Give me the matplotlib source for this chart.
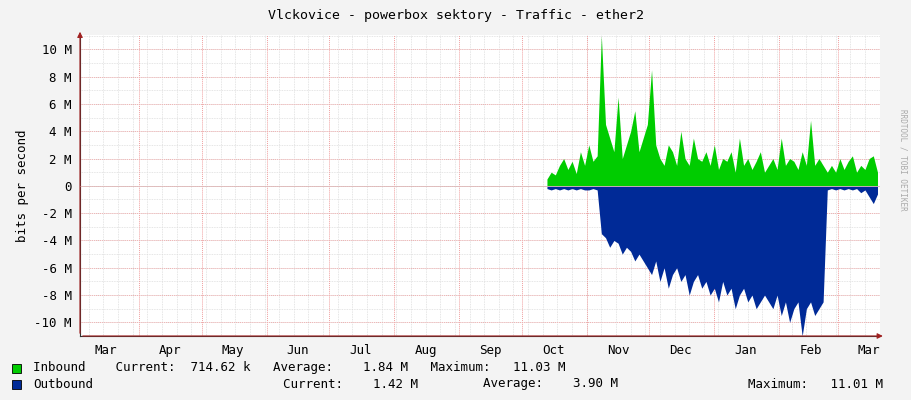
import matplotlib
matplotlib.use("Agg")
import matplotlib.pyplot as plt
import numpy as np

days = list(range(226, 386, 2))
inbound = [0.5,1.0,0.8,1.5,2.0,1.2,1.8,0.9,2.5,1.5,3.0,1.8,2.2,
           11.0,4.5,3.5,2.5,6.5,2.0,3.0,4.0,5.5,2.5,
           3.5,4.5,8.5,3.0,2.0,1.5,3.0,2.5,1.5,4.0,2.0,1.5,3.5,2.0,1.8,
           2.5,1.5,3.0,1.2,2.0,1.8,2.5,1.0,3.5,1.5,2.0,1.2,1.8,2.5,1.0,
           1.5,2.0,1.2,3.5,1.5,2.0,1.8,1.2,2.5,1.5,4.8,1.5,2.0,1.5,1.0,
           1.5,1.0,2.0,1.2,1.8,2.2,1.0,1.5,1.2,2.0,2.2,1.0]
outbound = [0.2,0.3,0.2,0.3,0.2,0.3,0.2,0.3,0.2,0.3,0.3,0.2,0.3,
            3.5,3.8,4.5,4.0,4.2,5.0,4.5,4.8,5.5,5.0,
            5.5,6.0,6.5,5.5,7.0,6.0,7.5,6.5,6.0,7.0,6.5,8.0,7.0,6.5,7.5,
            7.0,8.0,7.5,8.5,7.0,8.0,7.5,9.0,8.0,7.5,8.5,8.0,9.0,8.5,8.0,
            8.5,9.0,8.0,9.5,8.5,10.0,9.0,8.5,11.0,9.0,8.5,9.5,9.0,8.5,0.3,
            0.2,0.3,0.2,0.3,0.2,0.3,0.2,0.5,0.3,0.8,1.3,0.6]
months = ["Mar","Apr","May","Jun","Jul","Aug","Sep","Oct","Nov","Dec","Jan","Feb","Mar"]
month_starts = [0,31,61,92,122,153,184,214,245,275,306,337,365]
yticks = [-10,-8,-6,-4,-2,0,2,4,6,8,10]
ylabels = ["-10 M","-8 M","-6 M","-4 M","-2 M","0","2 M","4 M","6 M","8 M","10 M"]

mono = "DejaVu Sans Mono"
fig = plt.figure(figsize=(9.11,4.0), dpi=100, facecolor="#F3F3F3")
ax = fig.add_axes([80/911, 64/400, 800/911, 301/400])
ax.set_facecolor("white")
x0, x1 = 2.8, 385.2
ax.set_xlim(x0, x1); ax.set_ylim(-11, 11.05)

d = np.array(days); ii = np.array(inbound); oo = -np.array(outbound)
ax.fill_between(d, 0, ii, color="#00CC00", lw=0)
ax.fill_between(d, 0, oo, color="#002A97", lw=0)

for w in np.arange(7, 386, 7):
    ax.axvline(w, color="#DDDDDD", lw=0.6, ls=(0,(1,1)), zorder=0)
for y in np.arange(-11, 11.1, 1):
    ax.axhline(y, color="#DDDDDD", lw=0.6, ls=(0,(1,1)), zorder=0)
for m in month_starts[1:]:
    ax.axvline(m, color="#F0A0A0", lw=0.7, ls=(0,(1,1)), zorder=0.5)
for y in yticks:
    ax.axhline(y, color="#F0B0B0", lw=0.7, ls=(0,(1,1)), zorder=0.5)
ax.axhline(0, color="#DDBBBB", lw=0.6, zorder=3)

mids = [m+15 for m in month_starts]
ax.set_xticks(mids); ax.set_xticklabels(months, fontfamily=mono, fontsize=9)
ax.set_yticks(yticks); ax.set_yticklabels(ylabels, fontfamily=mono, fontsize=9)
ax.tick_params(length=0, pad=6)
for s in ["top","right"]:
    ax.spines[s].set_visible(False)
for s in ["left","bottom"]:
    ax.spines[s].set_color("#333333"); ax.spines[s].set_linewidth(0.8)
ax.annotate("", xy=(1.007,0), xycoords="axes fraction", xytext=(0,0),
            arrowprops=dict(arrowstyle="-|>", color="#A02020", lw=0.8, mutation_scale=8))
ax.annotate("", xy=(0,1.02), xycoords="axes fraction", xytext=(0,0),
            arrowprops=dict(arrowstyle="-|>", color="#A02020", lw=0.8, mutation_scale=8))
ax.set_ylabel("bits per second", fontfamily=mono, fontsize=9)

fig.text(0.5, 1-16/400, "Vlckovice - powerbox sektory - Traffic - ether2", ha="center", va="center",
         fontfamily=mono, fontsize=9.5)
fig.text(903/911, 0.5+40/400, "RRDTOOL / TOBI OETIKER", rotation=270, ha="center", va="center",
         fontfamily=mono, fontsize=5.5, color="#AAAAAA")

from matplotlib.patches import Rectangle
for yy, col in [(368, "#00CC00"), (384, "#002A97")]:
    fig.patches.append(Rectangle((12/911, 1-(yy+5)/400), 9/911, 9/400, transform=fig.transFigure,
                                 facecolor=col, edgecolor="black", lw=0.6))
fs = 9
fig.text(33/911, 1-368/400, "Inbound    Current:  714.62 k   Average:    1.84 M   Maximum:   11.03 M",
         fontfamily=mono, fontsize=fs, va="center")
fig.text(33/911, 1-384/400, "Outbound", fontfamily=mono, fontsize=fs, va="center")
fig.text(283/911, 1-384/400, "Current:    1.42 M", fontfamily=mono, fontsize=fs, va="center")
fig.text(483/911, 1-384/400, "Average:    3.90 M", fontfamily=mono, fontsize=fs, va="center")
fig.text(748/911, 1-384/400, "Maximum:   11.01 M", fontfamily=mono, fontsize=fs, va="center")

fig.savefig("out.png", dpi=100, facecolor=fig.get_facecolor())
